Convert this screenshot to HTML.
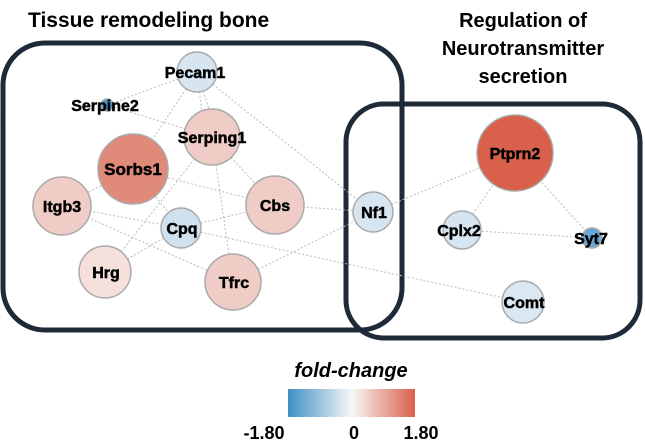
<!DOCTYPE html>
<html><head><meta charset="utf-8"><style>
html,body{margin:0;padding:0;background:#fff;}
svg{display:block;font-family:"Liberation Sans",Arial,sans-serif;font-weight:bold;}
</style></head><body>
<svg width="645" height="441" viewBox="0 0 645 441" xmlns="http://www.w3.org/2000/svg">
<defs>
<linearGradient id="g" x1="0" x2="1" y1="0" y2="0">
<stop offset="0" stop-color="#3f8fc6"/><stop offset="0.5" stop-color="#f7f7f7"/><stop offset="1" stop-color="#d9604a"/>
</linearGradient>
</defs>
<text x="28" y="27" font-size="21" fill="#000">Tissue remodeling  bone</text>
<text x="523" y="27" font-size="20" text-anchor="middle">Regulation of</text>
<text x="523" y="55" font-size="20" text-anchor="middle">Neurotransmitter</text>
<text x="523" y="83" font-size="20" text-anchor="middle">secretion</text>
<rect x="3" y="43" width="399" height="287" rx="42" fill="none" stroke="#1f2a38" stroke-width="5"/>
<rect x="346" y="104" width="294" height="234" rx="38" fill="none" stroke="#1f2a38" stroke-width="5"/>
<g stroke="#bbb" stroke-width="1" stroke-dasharray="2,2" fill="none">
<line x1="197" y1="72" x2="107" y2="105"/>
<line x1="197" y1="72" x2="133" y2="169"/>
<line x1="197" y1="72" x2="205" y2="137"/>
<line x1="197" y1="72" x2="218" y2="137"/>
<line x1="197" y1="72" x2="373" y2="212"/>
<line x1="107" y1="105" x2="212" y2="137"/>
<line x1="133" y1="169" x2="62" y2="206"/>
<line x1="133" y1="169" x2="275" y2="205"/>
<line x1="133" y1="169" x2="181" y2="228"/>
<line x1="212" y1="137" x2="105" y2="272"/>
<line x1="212" y1="137" x2="233" y2="282"/>
<line x1="212" y1="137" x2="275" y2="205"/>
<line x1="62" y1="206" x2="181" y2="228"/>
<line x1="62" y1="206" x2="233" y2="282"/>
<line x1="181" y1="228" x2="275" y2="205"/>
<line x1="181" y1="228" x2="105" y2="272"/>
<line x1="181" y1="228" x2="523" y2="302"/>
<line x1="275" y1="205" x2="373" y2="212"/>
<line x1="233" y1="282" x2="373" y2="212"/>
<line x1="373" y1="212" x2="515" y2="153"/>
<line x1="515" y1="153" x2="462" y2="230"/>
<line x1="515" y1="153" x2="592" y2="238"/>
<line x1="462" y1="230" x2="592" y2="238"/>
</g>
<g stroke="#aaa" stroke-width="1.5">
<circle cx="197" cy="72" r="20" fill="#d6e5f0"/>
<circle cx="107" cy="105" r="6" fill="#4a93c8"/>
<circle cx="212" cy="137" r="28" fill="#efcdc6"/>
<circle cx="133" cy="169" r="35" fill="#e08a7a"/>
<circle cx="62" cy="206" r="29" fill="#efcdc6"/>
<circle cx="275" cy="205" r="29" fill="#efcdc6"/>
<circle cx="181" cy="228" r="20" fill="#cfe0ee"/>
<circle cx="105" cy="272" r="26" fill="#f5e0dc"/>
<circle cx="233" cy="282" r="28" fill="#efcdc6"/>
<circle cx="373" cy="212" r="20" fill="#d6e5f0"/>
<circle cx="515" cy="153" r="38" fill="#d9604a"/>
<circle cx="462" cy="230" r="19" fill="#d6e5f0"/>
<circle cx="592" cy="238" r="10" fill="#6aa6d2"/>
<circle cx="523" cy="302" r="21" fill="#dbe7f1"/>
</g>
<g font-size="16" text-anchor="middle" fill="#000" stroke="#000" stroke-width="0.5">
<text x="195" y="78">Pecam1</text>
<text x="105" y="111">Serpine2</text>
<text x="212" y="143">Serping1</text>
<text x="133" y="175" font-size="17">Sorbs1</text>
<text x="62" y="212">Itgb3</text>
<text x="275" y="211">Cbs</text>
<text x="182" y="234">Cpq</text>
<text x="106" y="278">Hrg</text>
<text x="234" y="288">Tfrc</text>
<text x="374" y="218">Nf1</text>
<text x="515" y="159">Ptprn2</text>
<text x="459" y="236">Cplx2</text>
<text x="591" y="244">Syt7</text>
<text x="524" y="308">Comt</text>
</g>
<text x="351" y="377" font-size="20" font-style="italic" text-anchor="middle">fold-change</text>
<rect x="288" y="389" width="127" height="28" fill="url(#g)"/>
<g font-size="18" text-anchor="middle">
<text x="264" y="439">-1.80</text>
<text x="354" y="439">0</text>
<text x="421" y="439">1.80</text>
</g>
</svg>
</body></html>
